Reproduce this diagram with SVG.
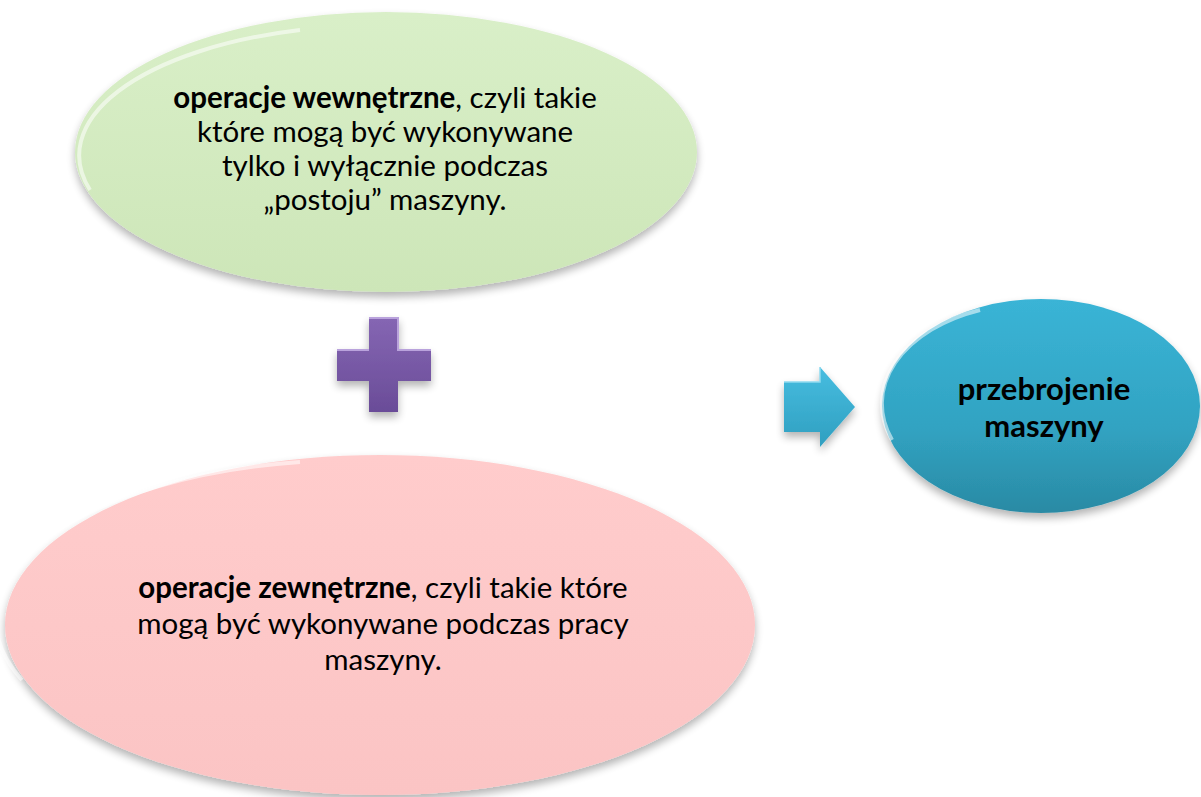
<svg xmlns="http://www.w3.org/2000/svg" width="1201" height="797" viewBox="0 0 1201 797">
<defs>
<style>
.t{font-family:Lato,"Open Sans","Liberation Sans",sans-serif;font-size:29.5px;fill:#000;text-anchor:middle}
.b{font-weight:bold}
.big{font-size:31px}
.rim{fill:none;stroke:#fff;stroke-opacity:0.55;stroke-width:4}
</style>
<filter id="sh" x="-10%" y="-10%" width="120%" height="130%">
<feGaussianBlur in="SourceAlpha" stdDeviation="4"/>
<feOffset dx="0" dy="5" result="o"/>
<feComponentTransfer><feFuncA type="linear" slope="0.3"/></feComponentTransfer>
<feMerge><feMergeNode/><feMergeNode in="SourceGraphic"/></feMerge>
</filter>
<linearGradient id="gGreen" x1="0" y1="0" x2="0" y2="1">
<stop offset="0" stop-color="#d9efc8"/><stop offset="1" stop-color="#cde6b8"/>
</linearGradient>
<linearGradient id="gPink" x1="0" y1="0" x2="0" y2="1">
<stop offset="0" stop-color="#ffcccc"/><stop offset="1" stop-color="#fbc4c4"/>
</linearGradient>
<linearGradient id="gBlue" x1="0" y1="0" x2="0" y2="1">
<stop offset="0" stop-color="#3ab4d6"/><stop offset="0.6" stop-color="#31a3c2"/><stop offset="1" stop-color="#2a8aa4"/>
</linearGradient>
<linearGradient id="gPurple" x1="0" y1="0" x2="0" y2="1">
<stop offset="0" stop-color="#8566b3"/><stop offset="1" stop-color="#6a4c98"/>
</linearGradient>
<linearGradient id="gArrow" x1="0" y1="0" x2="0" y2="1">
<stop offset="0" stop-color="#47bde0"/><stop offset="1" stop-color="#2f9fc0"/>
</linearGradient>
</defs>
<rect width="1201" height="797" fill="#fff"/>

<g id="node-wewnetrzne">
<ellipse cx="386" cy="152" rx="311" ry="140" fill="url(#gGreen)" filter="url(#sh)"/>
<path class="rim" d="M90 190 A300 130 0 0 1 300 30"/>
<text class="t" x="385" y="108"><tspan class="b">operacje wewnętrzne</tspan>, czyli takie</text>
<text class="t" x="385" y="142">które mogą być wykonywane</text>
<text class="t" x="385" y="176">tylko i wyłącznie podczas</text>
<text class="t" x="385" y="210">„postoju” maszyny.</text>
</g>

<g id="node-zewnetrzne">
<ellipse cx="380" cy="625" rx="375" ry="170" fill="url(#gPink)" filter="url(#sh)"/>
<path class="rim" d="M22 680 A360 160 0 0 1 300 462"/>
<text class="t" x="383" y="598"><tspan class="b">operacje zewnętrzne</tspan>, czyli takie które</text>
<text class="t" x="383" y="634">mogą być wykonywane podczas pracy</text>
<text class="t" x="383" y="670">maszyny.</text>
</g>

<g id="node-przezbrojenie">
<ellipse cx="1041" cy="406" rx="159" ry="107" fill="url(#gBlue)" filter="url(#sh)"/>
<path class="rim" d="M892 440 A150 100 0 0 1 980 310"/>
<text class="t b big" x="1044" y="400">przebrojenie</text>
<text class="t b big" x="1044" y="437">maszyny</text>
</g>

<g id="connectors">
<g id="plus" filter="url(#sh)">
<path d="M369 318 H398 V350 H431 V381 H398 V412 H369 V381 H337 V350 H369 Z" fill="url(#gPurple)"/>
<path d="M369 318 H398 V350 H431" fill="none" stroke="#b9a2dc" stroke-width="2"/>
<path d="M337 350 H369" fill="none" stroke="#b9a2dc" stroke-width="2"/>
</g>
<g id="arrow" filter="url(#sh)">
<path d="M784 382 H820 V367 L855 407 L820 447 V432 H784 Z" fill="url(#gArrow)"/>
<path d="M784 382 H820 V367" fill="none" stroke="#8fdaf0" stroke-width="1.5"/>
</g>
</g>
</svg>
